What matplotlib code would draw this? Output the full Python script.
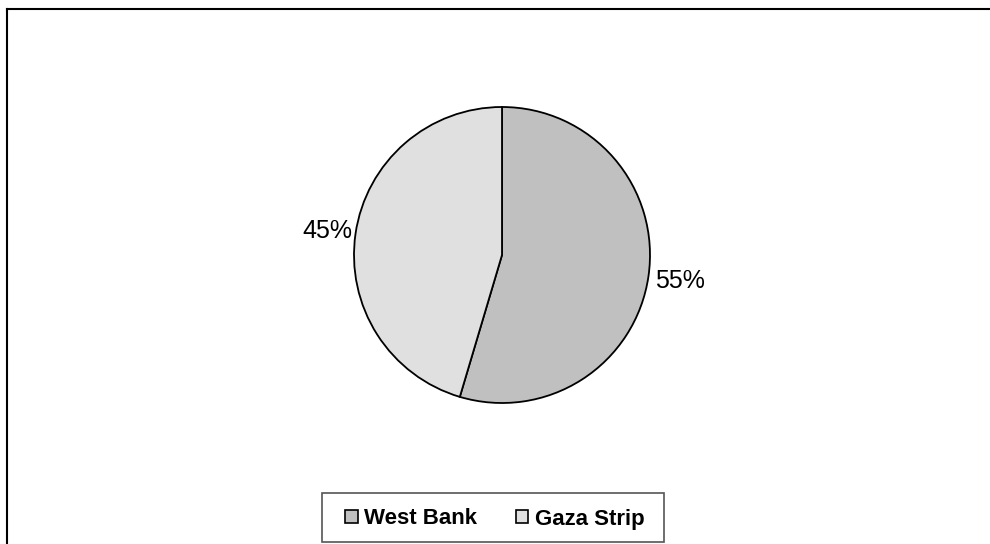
import matplotlib
matplotlib.use("Agg")
import matplotlib.pyplot as plt
from matplotlib.patches import Patch, Rectangle
from matplotlib.lines import Line2D

categories = ["West Bank", "Gaza Strip"]
values = [54.6, 45.4]
labels = ["55%", "45%"]
colors = ["#c0c0c0", "#e0e0e0"]

plt.rcParams['font.family'] = ['Liberation Sans', 'DejaVu Sans']

W, H = 990, 544
fig = plt.figure(figsize=(W / 100, H / 100), dpi=100)
ax = fig.add_axes([0, 0, 1, 1])

cx, cy, r = 502, H - 255, 148
wedges, _ = ax.pie(values, colors=colors, startangle=90, counterclock=False,
                   center=(cx, cy), radius=r, frame=True,
                   wedgeprops=dict(edgecolor='black', linewidth=1.3))
ax.set_xlim(0, W)
ax.set_ylim(0, H)
ax.set_aspect('equal')
ax.axis('off')

ax.text(655, H - 281, labels[0], fontsize=18, ha='left', va='center')
ax.text(352, H - 231, labels[1], fontsize=18, ha='right', va='center')

# outer chart frame
fig.add_artist(Line2D([6.5 / W, 6.5 / W], [0, 1 - 9 / H], transform=fig.transFigure,
                      color='black', linewidth=1.5))
fig.add_artist(Line2D([6.5 / W, 1], [1 - 9 / H, 1 - 9 / H], transform=fig.transFigure,
                      color='black', linewidth=1.5))

# legend box
fig.add_artist(Rectangle((321.5 / W, 2 / H), 342 / W, 49 / H, transform=fig.transFigure,
                         facecolor='white', edgecolor='#555555', linewidth=1.2, zorder=3))

handles = [Patch(facecolor=c, edgecolor='black', linewidth=1.2) for c in colors]
leg = fig.legend(handles, categories, ncol=2, loc='center',
                 bbox_to_anchor=(495 / W, 25 / H),
                 prop=dict(weight='bold', size=16), frameon=False,
                 handlelength=0.55, handleheight=0.55, handletextpad=0.3,
                 columnspacing=1.75, borderpad=0, borderaxespad=0)
leg.set_zorder(4)

fig.savefig("out.png", dpi=100)
